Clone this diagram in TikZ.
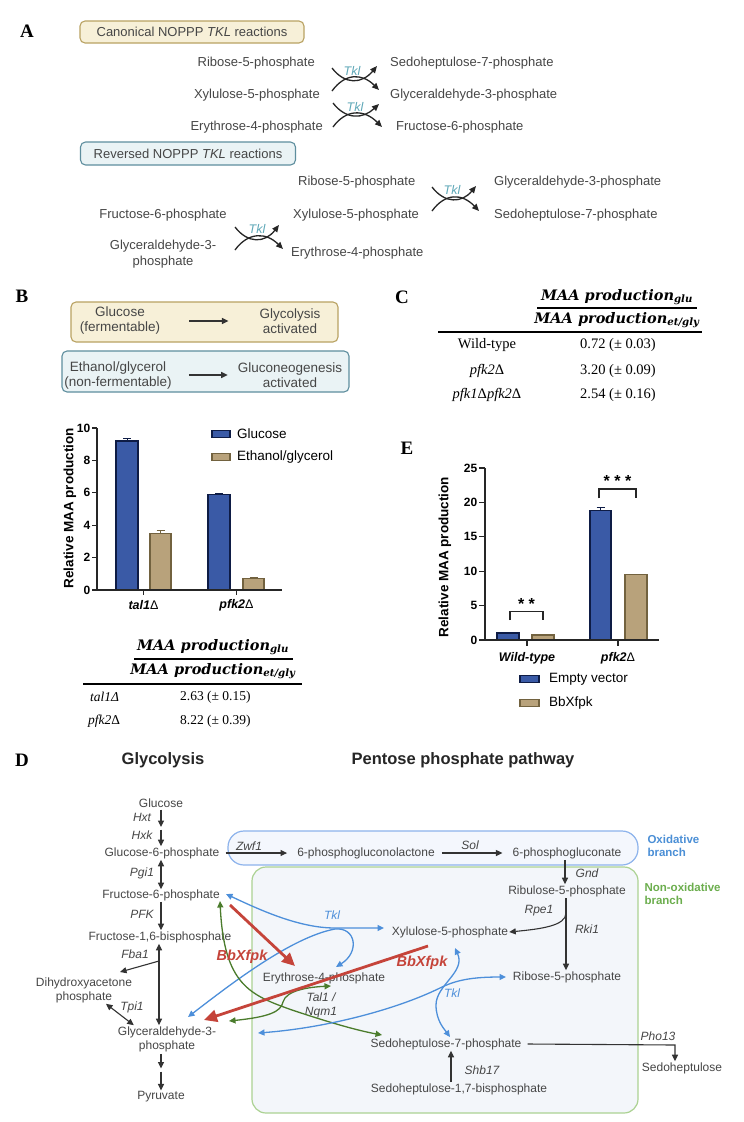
\documentclass[tikz,border=0pt]{standalone}
\usepackage{fontspec}
\setmainfont{Liberation Sans}
\newfontfamily\serifff{Liberation Serif}
\newfontfamily\fracf{DejaVu Serif}
\usetikzlibrary{arrows.meta,positioning}

\definecolor{txt}{HTML}{464646}
\definecolor{ybfill}{HTML}{F7F0D8}
\definecolor{ybdraw}{HTML}{B9A262}
\definecolor{bbfill}{HTML}{EAF3F5}
\definecolor{bbdraw}{HTML}{5E8E9E}
\definecolor{tkla}{HTML}{5FA8B8}
\definecolor{barblue}{HTML}{3A5AA6}
\definecolor{barblueedge}{HTML}{0E1C45}
\definecolor{bartan}{HTML}{B8A27B}
\definecolor{bartanedge}{HTML}{72623F}
\definecolor{oxdraw}{HTML}{8DB3EC}
\definecolor{oxfill}{HTML}{F4F7FD}
\definecolor{nxdraw}{HTML}{ACD293}
\definecolor{nxfill}{HTML}{F3F6FA}
\definecolor{oxtext}{HTML}{4B8FD6}
\definecolor{nxtext}{HTML}{6CAE4E}
\definecolor{tblue}{HTML}{4D8FDA}
\definecolor{tgreen}{HTML}{4B7C2C}
\definecolor{tred}{HTML}{C5443A}
\definecolor{arrowc}{HTML}{333333}

\tikzset{
  panel/.style={font=\fontsize{19}{22}\selectfont\serifff\bfseries, inner sep=0pt},
  metA/.style={text=txt, font=\fontsize{13}{15.5}\selectfont, inner sep=1pt},
  met/.style={text=txt, font=\fontsize{12}{14}\selectfont, inner sep=1pt},
  enz/.style={text=txt, font=\fontsize{12}{14}\selectfont\itshape, inner sep=1pt},
  tklA/.style={text=tkla, font=\fontsize{12.5}{14}\selectfont\itshape, inner sep=0pt},
  boxY/.style={draw=ybdraw, fill=ybfill, line width=1.1pt, rounded corners=5pt},
  boxB/.style={draw=bbdraw, fill=bbfill, line width=1.1pt, rounded corners=5pt},
  tklarr/.style={draw=black!85, line width=1.3pt, -{Triangle[length=7pt,width=6pt]}},
  rx/.style={draw=arrowc, line width=1.1pt, -{Triangle[length=6.5pt,width=6pt]}},
  rxx/.style={draw=arrowc, line width=1.1pt, {Triangle[length=6.5pt,width=6pt]}-{Triangle[length=6.5pt,width=6pt]}},
  barG/.style={fill=barblue, draw=barblueedge, line width=1.4pt},
  barE/.style={fill=bartan, draw=bartanedge, line width=1.4pt},
  errb/.style={draw=barblueedge, line width=0.9pt},
  axis/.style={draw=black!85, line width=1.3pt},
  tick/.style={font=\fontsize{12}{14}\selectfont\bfseries, inner sep=1pt},
  ylab/.style={font=\fontsize{13.5}{15}\selectfont\bfseries, inner sep=0pt, rotate=90},
  xlab/.style={font=\fontsize{12.5}{14}\selectfont\bfseries\itshape, inner sep=0pt},
  leg/.style={font=\fontsize{13.5}{15}\selectfont, inner sep=0pt},
  tab/.style={font=\fontsize{14.5}{16}\selectfont\serifff, inner sep=0pt},
  fracn/.style={font=\fontsize{14.5}{16}\selectfont\fracf\bfseries\itshape, inner sep=0pt},
  tklD/.style={draw=tblue, line width=1.3pt, {Triangle[length=6.5pt,width=6pt]}-{Triangle[length=6.5pt,width=6pt]}},
  talD/.style={draw=tgreen, line width=1.3pt, {Triangle[length=6.5pt,width=6pt]}-{Triangle[length=6.5pt,width=6pt]}},
  bbx/.style={draw=tred, line width=2.8pt, -{Triangle[length=13pt,width=12pt]}},
  bbxlab/.style={text=tred, font=\fontsize{14.5}{16}\selectfont\bfseries\itshape, inner sep=0pt},
}

\begin{document}
\begin{tikzpicture}[x=1pt, y=-1pt]
  \fill[white] (0,0) rectangle (744,1122);
  \useasboundingbox (0,0) rectangle (744,1122);

  % ---------- A: transketolase reactions
  \node[panel] (pA) at (27,31) {A};
  \node[boxY, metA, minimum width=224pt, minimum height=22pt] (canon) at (192,32) {Canonical NOPPP \textit{TKL} reactions};
  \node[metA, anchor=east] (ar5p) at (316,63) {Ribose-5-phosphate};
  \node[metA, anchor=east] (axu5p) at (321,95) {Xylulose-5-phosphate};
  \node[metA, anchor=east] (ae4p) at (324,127) {Erythrose-4-phosphate};
  \node[metA, anchor=west] (as7p) at (389,63) {Sedoheptulose-7-phosphate};
  \node[metA, anchor=west] (agap) at (389,95) {Glyceraldehyde-3-phosphate};
  \node[metA, anchor=west] (af6p) at (395,127) {Fructose-6-phosphate};
  \draw[tklarr] (332,68) .. controls (345,85) and (362,84) .. (377,66);
  \draw[tklarr] (332,91) .. controls (345,73) and (362,73) .. (379,90);
  \node[tklA] (atk1) at (352,71) {Tkl};
  \draw[tklarr] (333,103) .. controls (346,120) and (363,119) .. (379,104);
  \draw[tklarr] (333,127) .. controls (346,109) and (364,109) .. (382,127);
  \node[tklA] (atk2) at (355,107) {Tkl};

  \node[boxB, metA, minimum width=215pt, minimum height=23pt] (rev) at (188,153.5) {Reversed NOPPP \textit{TKL} reactions};
  \node[metA] (rf6p) at (163,215) {Fructose-6-phosphate};
  \node[metA, align=center] (rgap) at (163,254) {Glyceraldehyde-3-\\phosphate};
  \node[metA, anchor=west] (rr5p) at (297,182) {Ribose-5-phosphate};
  \node[metA, anchor=west] (rxu5p) at (292,215) {Xylulose-5-phosphate};
  \node[metA, anchor=west] (re4p) at (290,253) {Erythrose-4-phosphate};
  \node[metA, anchor=west] (rgap2) at (493,182) {Glyceraldehyde-3-phosphate};
  \node[metA, anchor=west] (rs7p) at (493,215) {Sedoheptulose-7-phosphate};
  \draw[tklarr] (235,227) .. controls (248,244) and (265,243) .. (279,225);
  \draw[tklarr] (235,250) .. controls (248,232) and (266,232) .. (283,249);
  \node[tklA] (rtk1) at (257,229) {Tkl};
  \draw[tklarr] (432,187) .. controls (445,204) and (462,203) .. (476,186);
  \draw[tklarr] (432,211) .. controls (445,193) and (462,193) .. (479,211);
  \node[tklA] (rtk2) at (452,190) {Tkl};

  % ---------- B: carbon source
  \node[panel] (pB) at (22,296) {B};
  \draw[boxY] (71,302) rectangle (338,342);
  \node[leg, text=txt, align=center] (glcB) at (120,321) {Glucose\\(fermentable)};
  \node[leg, text=txt, align=center] (glyB) at (290,321) {Glycolysis\\activated};
  \draw[rx, line width=1.3pt, shorten <=29pt, shorten >=31pt] (glcB) -- (glyB);
  \draw[boxB] (62,351) rectangle (349,392);
  \node[leg, text=txt, align=center] (ethB) at (118,375) {Ethanol/glycerol\\(non-fermentable)};
  \node[leg, text=txt, align=center] (gngB) at (290,375) {Gluconeogenesis\\activated};
  \draw[rx, line width=1.3pt, shorten <=17pt, shorten >=10pt] (ethB) -- (gngB);

  % bar chart B
  \begin{scope}[shift={(97,590)}, y=16.2pt]
    \draw[barG] (19,0) rectangle (41,9.2);
    \draw[barE] (53,0) rectangle (74,3.5);
    \draw[barG] (111,0) rectangle (133,5.9);
    \draw[barE] (146,0) rectangle (167,0.7);
    \draw[errb] (30,9.2) -- (30,9.38) (26,9.38) -- (34,9.38);
    \draw[errb, draw=bartanedge] (63.5,3.5) -- (63.5,3.68) (59.5,3.68) -- (67.5,3.68);
    \draw[errb] (118,5.96) -- (126,5.96);
    \draw[errb, draw=bartanedge] (152.5,0.76) -- (160.5,0.76);
    \draw[axis] (0,10) -- (0,0) -- (185,0);
    \foreach \v in {0,2,...,10} {
      \draw[axis] (-5,\v) -- (0,\v);
      \node[tick, anchor=east] (by\v) at (-5.5,\v) {\v};
    }
    \draw[axis] (46.5,0) -- (46.5,-0.33);
    \draw[axis] (139.5,0) -- (139.5,-0.33);
    \node[xlab] (btal) at (46.5,-0.95) {tal1{\upshape\mdseries Δ}};
    \node[xlab] (bpfk) at (139.5,-0.95) {pfk2{\upshape\mdseries Δ}};
  \end{scope}
  \node[ylab] (bylab) at (70,508) {Relative MAA production};
  \draw[barG, line width=1.2pt] (212,430.5) rectangle (230,437.5);
  \node[leg, anchor=west] (lgG) at (237,434) {Glucose};
  \draw[barE, line width=1.2pt] (212,453.5) rectangle (230,460.5);
  \node[leg, anchor=west] (lgE) at (237,457) {Ethanol/glycerol};

  % ratio table B
  \node[fracn] (bnum) at (213,647) {MAA production\textsubscript{glu}};
  \node[fracn] (bden) at (213,671) {MAA production\textsubscript{et/gly}};
  \draw[line width=1.3pt] (134,659) -- (293,659);
  \draw[line width=1.2pt] (83,684) -- (302,684);
  \node[tab, anchor=west, font=\fontsize{13.5}{16}\selectfont\serifff\itshape] (btr1) at (90,697) {tal1Δ};
  \node[tab, anchor=west, font=\fontsize{13.5}{16}\selectfont\serifff] (btv1) at (180,697) {2.63 (± 0.15)};
  \node[tab, anchor=west, font=\fontsize{13.5}{16}\selectfont\serifff\itshape] (btr2) at (88,721) {pfk2{\upshape Δ}};
  \node[tab, anchor=west, font=\fontsize{13.5}{16}\selectfont\serifff] (btv2) at (180,721) {8.22 (± 0.39)};

  % ---------- C: ratio table
  \node[panel] (pC) at (402,297) {C};
  \node[fracn] (cnum) at (617,297) {MAA production\textsubscript{glu}};
  \node[fracn] (cden) at (617,320) {MAA production\textsubscript{et/gly}};
  \draw[line width=1.3pt] (537,308) -- (697,308);
  \draw[line width=1.2pt] (438,332) -- (702,332);
  \node[tab] (ctr1) at (487,345) {Wild-type};
  \node[tab] (ctv1) at (618,345) {0.72 (± 0.03)};
  \node[tab, font=\fontsize{14.5}{16}\selectfont\serifff\itshape] (ctr2) at (487,371) {pfk2{\upshape Δ}};
  \node[tab] (ctv2) at (618,371) {3.20 (± 0.09)};
  \node[tab, font=\fontsize{14.5}{16}\selectfont\serifff\itshape] (ctr3) at (487,395) {pfk1{\upshape Δ}pfk2{\upshape Δ}};
  \node[tab] (ctv3) at (618,395) {2.54 (± 0.16)};

  % ---------- E: BbXfpk expression
  \node[panel] (pE) at (407,448) {E};
  \begin{scope}[shift={(485,640)}, y=6.88pt]
    \draw[barG] (12,0) rectangle (34,1.0);
    \draw[barE] (47,0) rectangle (69,0.72);
    \draw[barG] (105,0) rectangle (126,18.8);
    \draw[barE] (140,0) rectangle (162,9.5);
    \draw[errb] (111.5,19.2) -- (119.5,19.2) (115.5,18.8) -- (115.5,19.2);
    \draw[axis] (0,25) -- (0,0) -- (174,0);
    \foreach \v in {0,5,...,25} {
      \draw[axis] (-6,\v) -- (0,\v);
      \node[tick, anchor=east] (ey\v) at (-6.5,\v) {\v};
    }
    \draw[axis] (42,0) -- (42,-0.8);
    \draw[axis] (133,0) -- (133,-0.8);
    \node[xlab] (ewt) at (42,-2.6) {Wild-type};
    \node[xlab] (epfk) at (133,-2.6) {pfk2{\upshape\mdseries Δ}};
    \draw[axis, line width=1.2pt] (25,2.9) -- (25,4.2) -- (58,4.2) -- (58,2.9);
    \node[tick, font=\fontsize{16}{16}\selectfont\bfseries] (es1) at (41.5,5.3) {* *};
    \draw[axis, line width=1.2pt] (114,20.6) -- (114,21.95) -- (151,21.95) -- (151,20.6);
    \node[tick, font=\fontsize{16}{16}\selectfont\bfseries] (es2) at (132.5,23.1) {* * *};
  \end{scope}
  \node[ylab] (eylab) at (445,557) {Relative MAA production};
  \draw[barG, line width=1.2pt] (520,675.5) rectangle (539,682.5);
  \node[leg, anchor=west] (lgEv) at (549,679) {Empty vector};
  \draw[barE, line width=1.2pt] (520,699.5) rectangle (539,706.5);
  \node[leg, anchor=west] (lgBb) at (549,703) {BbXfpk};

  % ---------- D: pathway map
  \node[panel] (pD) at (22,760) {D};
  \node[font=\fontsize{16.5}{18}\selectfont\bfseries, text=black!85] (hglyc) at (163,760) {Glycolysis};
  \node[font=\fontsize{16.5}{18}\selectfont\bfseries, text=black!85] (hppp) at (463,760) {Pentose phosphate pathway};

  % branch boxes
  \draw[draw=oxdraw, fill=oxfill, line width=1.2pt, rounded corners=16pt] (228,831) rectangle (638,865);
  \draw[draw=nxdraw, fill=nxfill, line width=1.2pt, rounded corners=14pt] (252,867) rectangle (638,1113);
  \node[font=\fontsize{11.5}{13.5}\selectfont\bfseries, text=oxtext, align=left, anchor=west] (oxl) at (644,846) {Oxidative\\branch};
  \node[font=\fontsize{11.5}{13.5}\selectfont\bfseries, text=nxtext, align=left, anchor=west] (nxl) at (641,894) {Non-oxidative\\branch};

  % metabolites
  \node[met] (glc) at (161,803) {Glucose};
  \node[met] (g6p) at (162,853) {Glucose-6-phosphate};
  \node[met] (f6p) at (161,895) {Fructose-6-phosphate};
  \node[met] (fbp) at (160,937) {Fructose-1,6-bisphosphate};
  \node[met, align=center] (dhap) at (84,990) {Dihydroxyacetone\\phosphate};
  \node[met, align=center] (gap) at (167,1039) {Glyceraldehyde-3-\\phosphate};
  \node[met] (pyr) at (161,1097) {Pyruvate};
  \node[met] (pgl) at (366,853) {6-phosphogluconolactone};
  \node[met] (pgn) at (567,853) {6-phosphogluconate};
  \node[met] (ru5p) at (567,891) {Ribulose-5-phosphate};
  \node[met] (xu5p) at (450,932) {Xylulose-5-phosphate};
  \node[met] (r5p) at (567,977) {Ribose-5-phosphate};
  \node[met] (e4p) at (324,978) {Erythrose-4-phosphate};
  \node[met] (s7p) at (446,1044) {Sedoheptulose-7-phosphate};
  \node[met] (sbp) at (459,1089) {Sedoheptulose-1,7-bisphosphate};
  \node[met] (sedo) at (682,1068) {Sedoheptulose};

  % enzymes
  \node[enz] (hxt) at (142,817) {Hxt};
  \node[enz] (hxk) at (142,835) {Hxk};
  \node[enz] (pgi) at (142,873) {Pgi1};
  \node[enz] (pfk) at (142,914) {PFK};
  \node[enz] (fba) at (135,954) {Fba1};
  \node[enz] (tpi) at (132,1007) {Tpi1};
  \node[enz] (zwf) at (249,846) {Zwf1};
  \node[enz] (sol) at (470,845) {Sol};
  \node[enz] (gnd) at (587,873) {Gnd};
  \node[enz] (rpe) at (539,911) {Rpe1};
  \node[enz] (rki) at (587,929) {Rki1};
  \node[enz] (shb) at (482,1070) {Shb17};
  \node[enz] (pho) at (658,1036) {Pho13};
  \node[enz, align=center] (tal) at (321,1005) {Tal1 /\\Nqm1};
  \node[enz, text=tblue] (tk1) at (332,915) {Tkl};
  \node[enz, text=tblue] (tk2) at (452,993) {Tkl};

  % glycolysis steps
  \coordinate (col) at (161,828);
  \coordinate (fbacol) at (159,961);
  \coordinate (gapcol) at (161,1070);
  \coordinate (fbadhap) at (120,972);
  \draw[rx, shorten <=1pt] (glc) -- ([yshift=1pt]col);
  \draw[rx] ([yshift=-1.5pt]col) -- (g6p.north -| col);
  \draw[rxx] (g6p.south -| col) -- ([yshift=-1pt]f6p.north -| col);
  \draw[rx] (f6p.south -| col) -- (fbp.north -| col);
  \draw[rxx] (fbp.south -| fbacol) -- (gap.north -| fbacol);
  \draw[rx] (fbacol) -- (fbadhap);
  \draw[rxx] ([xshift=22pt]dhap.south) -- ([xshift=17pt]gap.north west);
  \draw[rx] ([yshift=-1pt]gap.south -| gapcol) -- ([yshift=1.5pt]gapcol);
  \draw[rx] ([yshift=-1.5pt]gapcol) -- (pyr.north -| gapcol);

  % oxidative branch
  \draw[rx, shorten <=5pt, shorten >=9pt] (g6p) -- (pgl);
  \draw[rx, shorten <=6pt, shorten >=9pt] (pgl) -- (pgn);
  \draw[rx] ([xshift=-2pt]pgn.south) -- ([xshift=-2pt]ru5p.north);

  % non-oxidative branch, black steps
  \coordinate (ru5pb) at (566,898);
  \draw[rx] (ru5pb) -- (566,913) .. controls (566,926) and (540,929) .. (xu5p.east);
  \draw[rx] (ru5pb) -- (r5p.north -| ru5pb);
  \draw[rx] ([xshift=5pt]sbp.north -| s7p.south) -- ([xshift=5pt]s7p.south);
  \coordinate (phocorner) at (675,1045);
  \draw[rx] ([xshift=5pt]s7p.east) -- (phocorner) -- (sedo.north -| phocorner);

  % transketolase (upper)
  \coordinate (tkf6p) at (226,894);
  \coordinate (tkxu5p) at (384,928);
  \coordinate (tkgap) at (188,1017);
  \coordinate (tke4p) at (336,967);
  \draw[tklD] (tkf6p) .. controls (262,911) and (300,928) .. (335,928) -- (tkxu5p);
  \draw[tklD] (tkgap) .. controls (232,983) and (292,937) .. (335,929) .. controls (356,927) and (360,952) .. (tke4p);

  % transaldolase
  \coordinate (talf6p) at (220,901);
  \coordinate (tals7p) at (382,1035);
  \coordinate (talgap) at (229,1021);
  \coordinate (tale4p) at (331,986);
  \draw[talD] (talf6p) .. controls (224,985) and (250,995) .. (292,1010) .. controls (325,1021) and (355,1030) .. (tals7p);
  \draw[talD] (talgap) .. controls (268,1017) and (281,1012) .. (283,1002) .. controls (286,990) and (310,987) .. (tale4p);

  % transketolase (lower)
  \coordinate (tkgap2) at (258,1033);
  \coordinate (tkr5p) at (506,977);
  \coordinate (tkxu5p2) at (455,948);
  \coordinate (tks7p) at (450,1037);
  \draw[tklD] (tkgap2) .. controls (325,1028) and (395,1010) .. (440,988) .. controls (456,980) and (472,977) .. (tkr5p);
  \draw[tklD] (tkxu5p2) .. controls (466,972) and (436,985) .. (436,1005) .. controls (436,1021) and (445,1030) .. (tks7p);

  % phosphoketolase
  \coordinate (bbf6p) at (230,905);
  \coordinate (bbe4p) at (295,966);
  \coordinate (bbxu5p) at (428,946);
  \coordinate (bbgap) at (204,1020);
  \draw[bbx] (bbf6p) -- (bbe4p);
  \draw[bbx] (bbxu5p) -- (bbgap);
  \node[bbxlab] (bb1) at (242,957) {BbXfpk};
  \node[bbxlab] (bb2) at (422,963) {BbXfpk};
\end{tikzpicture}
\end{document}
